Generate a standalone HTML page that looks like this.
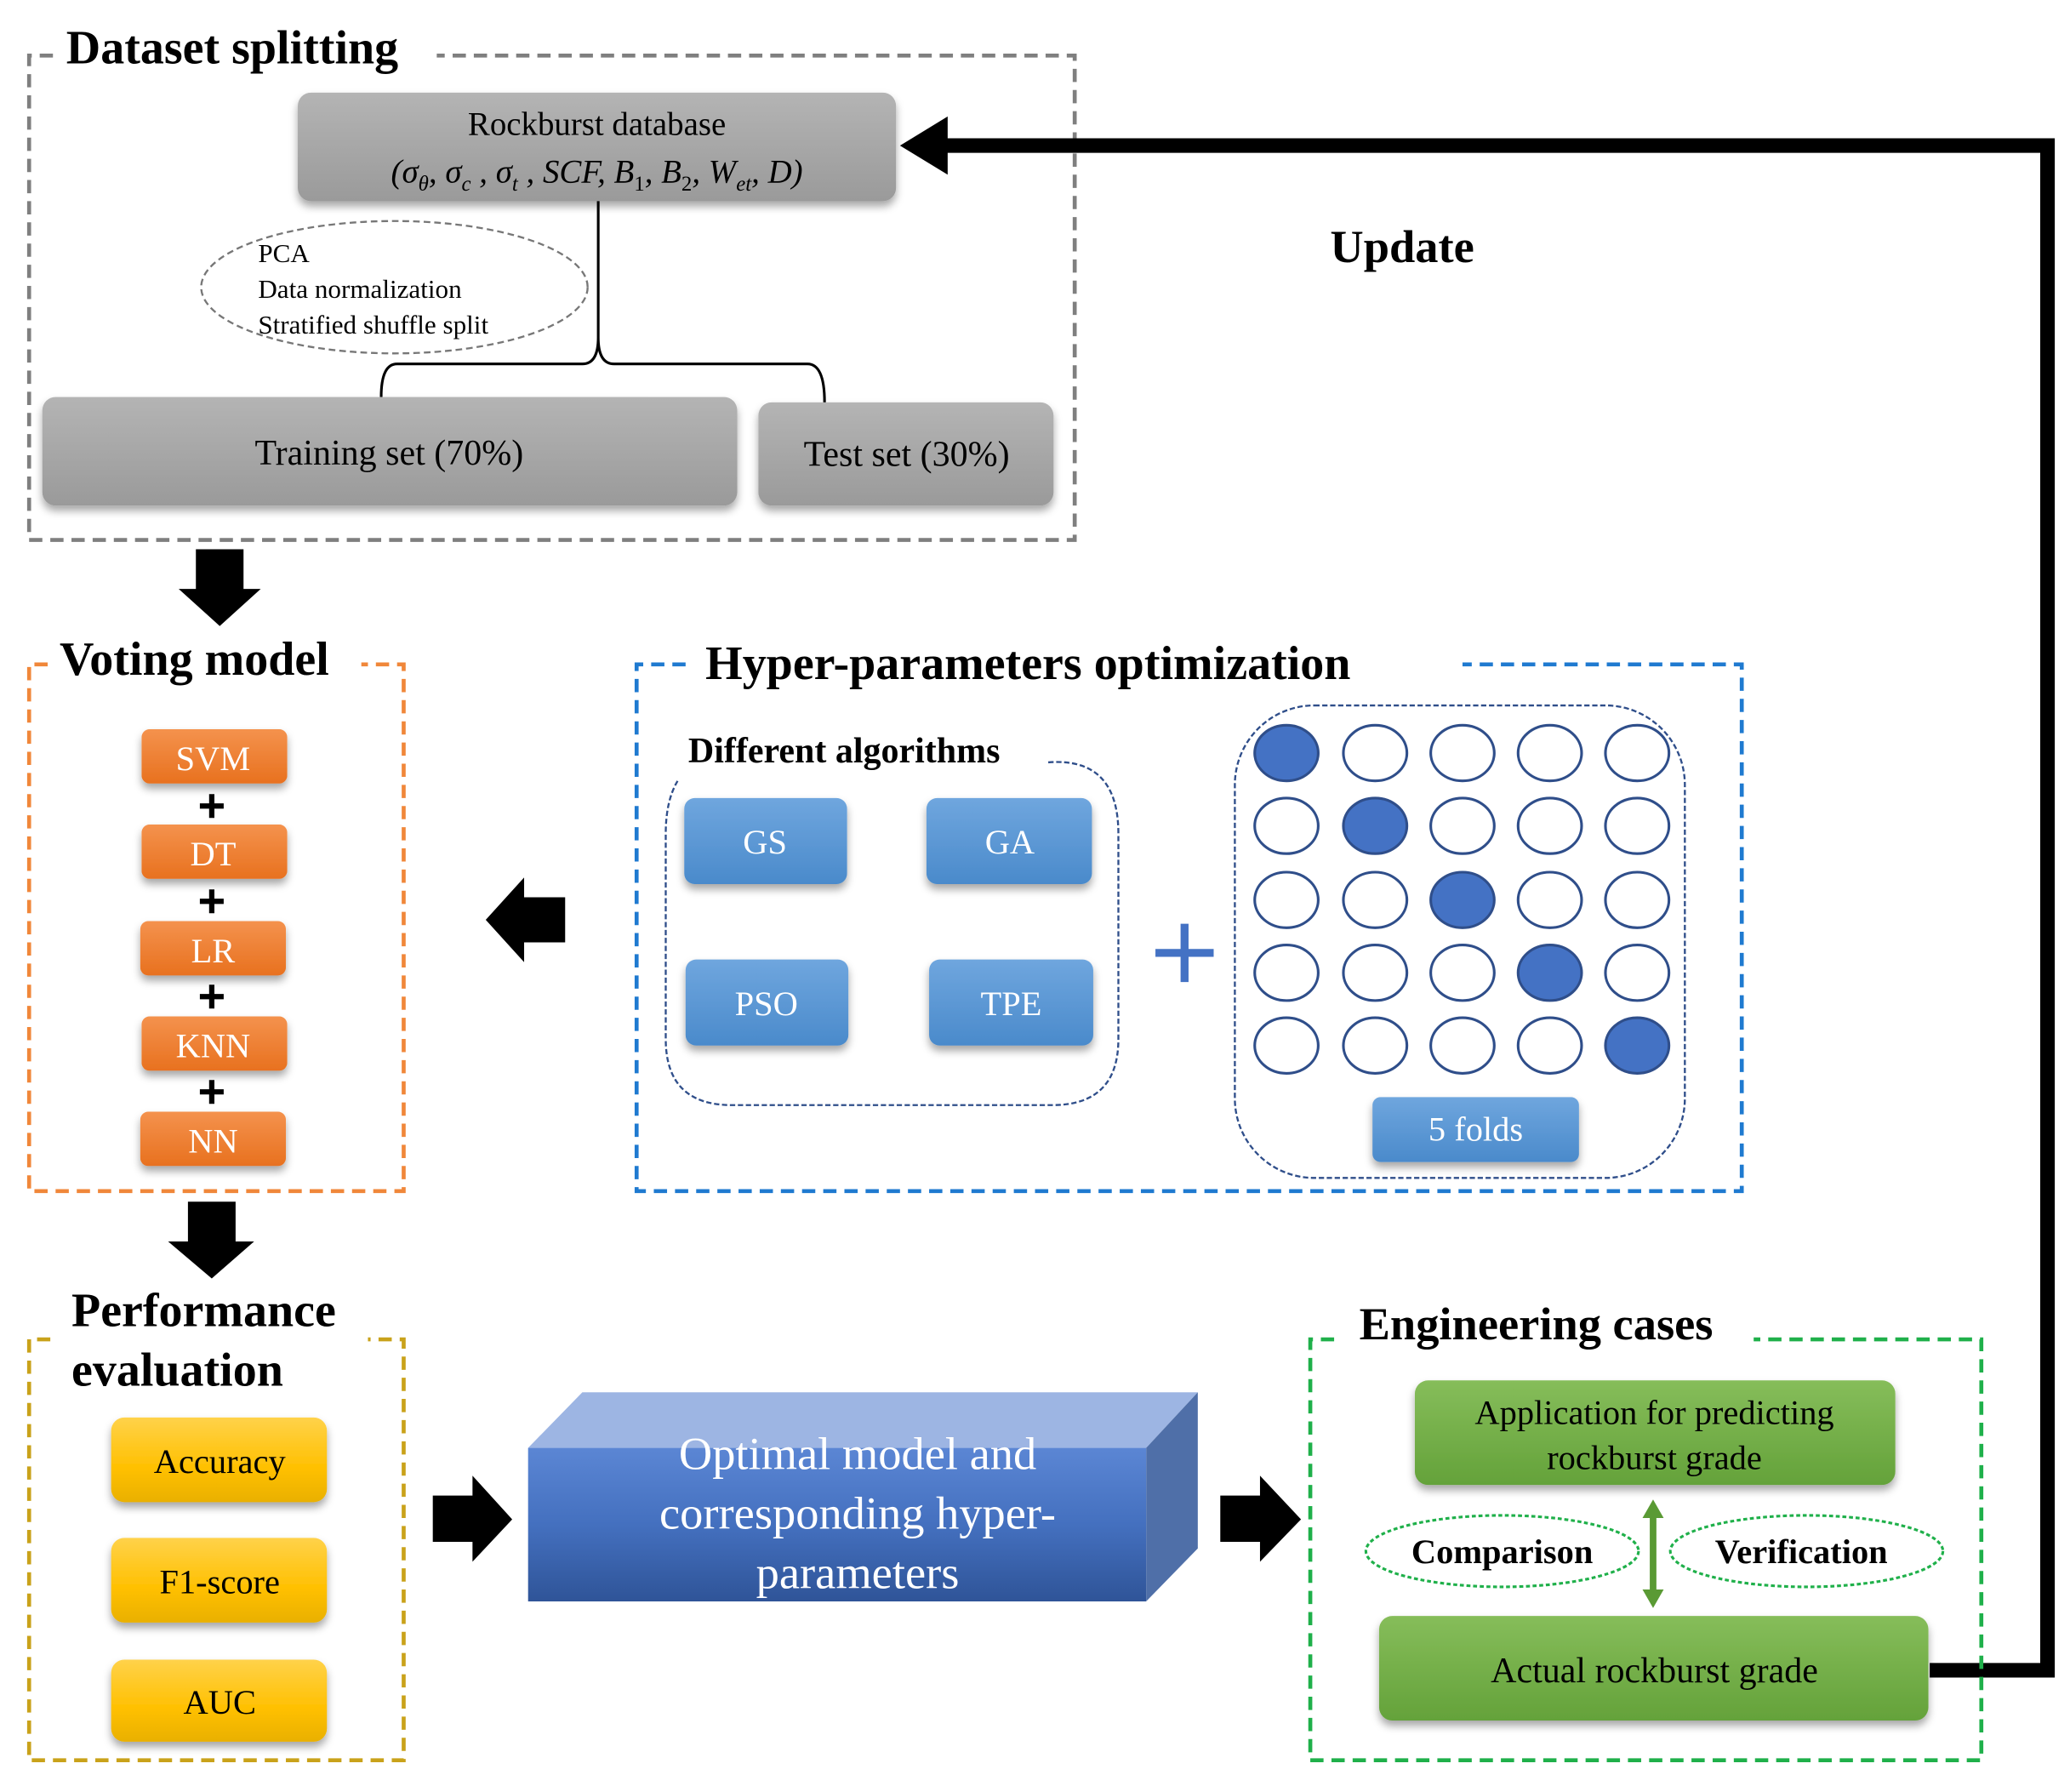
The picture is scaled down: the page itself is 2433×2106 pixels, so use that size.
<!DOCTYPE html>
<html><head><meta charset="utf-8"><style>
html,body{margin:0;padding:0;background:#fff}
svg{display:block}
text{font-family:"Liberation Serif",serif}
</style></head><body>
<svg width="2433" height="2106" viewBox="0 0 1564 1354" preserveAspectRatio="none" xmlns="http://www.w3.org/2000/svg">
<defs>
<linearGradient id="gray" x1="0" y1="0" x2="0" y2="1"><stop offset="0" stop-color="#b4b4b4"/><stop offset="1" stop-color="#9a9a9a"/></linearGradient>
<linearGradient id="org" x1="0" y1="0" x2="0" y2="1"><stop offset="0" stop-color="#f4924d"/><stop offset="1" stop-color="#e8711f"/></linearGradient>
<linearGradient id="blu" x1="0" y1="0" x2="0" y2="1"><stop offset="0" stop-color="#6fa6de"/><stop offset="1" stop-color="#4a8acb"/></linearGradient>
<linearGradient id="yel" x1="0" y1="0" x2="0" y2="1"><stop offset="0" stop-color="#ffd24a"/><stop offset="0.6" stop-color="#ffc000"/><stop offset="1" stop-color="#e9b000"/></linearGradient>
<linearGradient id="grn" x1="0" y1="0" x2="0" y2="1"><stop offset="0" stop-color="#86bd5a"/><stop offset="1" stop-color="#64a23a"/></linearGradient>
<linearGradient id="front" x1="0" y1="0" x2="0" y2="1"><stop offset="0" stop-color="#5b86d4"/><stop offset="0.5" stop-color="#4470bf"/><stop offset="1" stop-color="#2f5498"/></linearGradient>
<filter id="sh" x="-10%" y="-10%" width="120%" height="140%"><feDropShadow dx="0" dy="4" stdDeviation="3" flood-color="#000" flood-opacity="0.35"/></filter>
</defs>

<!-- Dataset splitting -->
<path d="M40,42 H22 V408 H812 V42 H330" fill="none" stroke="#7f7f7f" stroke-width="3" stroke-dasharray="10,6"/>
<text x="50" y="48" font-size="36" font-weight="bold">Dataset splitting</text>
<rect x="225" y="70" width="452" height="82" rx="10" fill="url(#gray)" filter="url(#sh)"/>
<text x="451" y="102" font-size="25" text-anchor="middle">Rockburst database</text>
<text x="451" y="138" font-size="25" text-anchor="middle" font-style="italic">(σ<tspan font-size="16" dy="6">θ</tspan><tspan dy="-6">, σ</tspan><tspan font-size="16" dy="6">c</tspan><tspan dy="-6"> , σ</tspan><tspan font-size="16" dy="6">t</tspan><tspan dy="-6"> , SCF, B</tspan><tspan font-size="16" dy="6" font-style="normal">1</tspan><tspan dy="-6">, B</tspan><tspan font-size="16" dy="6" font-style="normal">2</tspan><tspan dy="-6">, W</tspan><tspan font-size="16" dy="6">et</tspan><tspan dy="-6">, D)</tspan></text>
<ellipse cx="298" cy="217" rx="146" ry="50" fill="none" stroke="#777" stroke-width="1.5" stroke-dasharray="5,3"/>
<text x="195" y="198" font-size="20">PCA</text>
<text x="195" y="225" font-size="20">Data normalization</text>
<text x="195" y="252" font-size="20">Stratified shuffle split</text>
<path d="M452,152 V255 Q452,275 440,275 H300 Q288,275 288,300 M452,255 Q452,275 464,275 H610 Q623,275 623,304" fill="none" stroke="#000" stroke-width="2"/>
<rect x="32" y="300" width="525" height="82" rx="10" fill="url(#gray)" filter="url(#sh)"/>
<text x="294" y="351" font-size="27" text-anchor="middle">Training set (70%)</text>
<rect x="573" y="304" width="223" height="78" rx="10" fill="url(#gray)" filter="url(#sh)"/>
<text x="685" y="352" font-size="27" text-anchor="middle">Test set (30%)</text>

<!-- Update loop -->
<path d="M1458,1262 H1547 V110 H710" fill="none" stroke="#000" stroke-width="11"/>
<polygon points="680,110 716,88 716,132" fill="#000"/>
<text x="1005" y="198" font-size="35" font-weight="bold">Update</text>

<!-- down arrow 1 -->
<polygon points="148,415 184,415 184,445 197,445 166,473 135,445 148,445" fill="#000"/>

<!-- Voting model -->
<path d="M36,502 H22 V900 H305 V502 H273" fill="none" stroke="#f0873a" stroke-width="3" stroke-dasharray="10,6"/>
<text x="45" y="510" font-size="36" font-weight="bold">Voting model</text>
<g font-size="26" fill="#fff" text-anchor="middle">
<rect x="107" y="551" width="110" height="41" rx="6" fill="url(#org)" filter="url(#sh)"/><text x="161" y="582" fill="#fff">SVM</text>
<rect x="107" y="623" width="110" height="41" rx="6" fill="url(#org)" filter="url(#sh)"/><text x="161" y="654" fill="#fff">DT</text>
<rect x="106" y="696" width="110" height="41" rx="6" fill="url(#org)" filter="url(#sh)"/><text x="161" y="727" fill="#fff">LR</text>
<rect x="107" y="768" width="110" height="41" rx="6" fill="url(#org)" filter="url(#sh)"/><text x="161" y="799" fill="#fff">KNN</text>
<rect x="106" y="840" width="110" height="41" rx="6" fill="url(#org)" filter="url(#sh)"/><text x="161" y="871" fill="#fff">NN</text>
</g>
<g stroke="#000" stroke-width="4">
<path d="M151,609 H169 M160,600 V618"/><path d="M151,681 H169 M160,672 V690"/><path d="M151,753 H169 M160,744 V762"/><path d="M151,825 H169 M160,816 V834"/>
</g>
<polygon points="367,695 396,663 396,678 427,678 427,712 396,712 396,727" fill="#000"/>

<!-- Hyper-parameters -->
<path d="M518,502 H481 V900 H1316 V502 H1105" fill="none" stroke="#1f7ad0" stroke-width="3" stroke-dasharray="10,6"/>
<text x="533" y="513" font-size="36" font-weight="bold">Hyper-parameters optimization</text>
<text x="520" y="576" font-size="27" font-weight="bold">Different algorithms</text>
<path d="M792,576 Q845,572 845,630 V785 Q845,835 795,835 H553 Q503,835 503,785 V630 Q503,605 512,590" fill="none" stroke="#2f4e8a" stroke-width="1.5" stroke-dasharray="4,2"/>
<g font-size="26" text-anchor="middle">
<rect x="517" y="603" width="123" height="65" rx="8" fill="url(#blu)" filter="url(#sh)"/><text x="578" y="645" fill="#fff">GS</text>
<rect x="700" y="603" width="125" height="65" rx="8" fill="url(#blu)" filter="url(#sh)"/><text x="763" y="645" fill="#fff">GA</text>
<rect x="518" y="725" width="123" height="65" rx="8" fill="url(#blu)" filter="url(#sh)"/><text x="579" y="767" fill="#fff">PSO</text>
<rect x="702" y="725" width="124" height="65" rx="8" fill="url(#blu)" filter="url(#sh)"/><text x="764" y="767" fill="#fff">TPE</text>
</g>
<path d="M873,720 H917 M895,698 V742" stroke="#4472c4" stroke-width="6"/>
<rect x="933" y="533" width="340" height="357" rx="60" fill="none" stroke="#2f4e8a" stroke-width="1.5" stroke-dasharray="4,2"/>
<g stroke="#2f4e8a" stroke-width="2" fill="#fff">
<ellipse cx="972" cy="569" rx="24" ry="21" fill="#4472c4"/><ellipse cx="1039" cy="569" rx="24" ry="21"/><ellipse cx="1105" cy="569" rx="24" ry="21"/><ellipse cx="1171" cy="569" rx="24" ry="21"/><ellipse cx="1237" cy="569" rx="24" ry="21"/>
<ellipse cx="972" cy="624" rx="24" ry="21"/><ellipse cx="1039" cy="624" rx="24" ry="21" fill="#4472c4"/><ellipse cx="1105" cy="624" rx="24" ry="21"/><ellipse cx="1171" cy="624" rx="24" ry="21"/><ellipse cx="1237" cy="624" rx="24" ry="21"/>
<ellipse cx="972" cy="680" rx="24" ry="21"/><ellipse cx="1039" cy="680" rx="24" ry="21"/><ellipse cx="1105" cy="680" rx="24" ry="21" fill="#4472c4"/><ellipse cx="1171" cy="680" rx="24" ry="21"/><ellipse cx="1237" cy="680" rx="24" ry="21"/>
<ellipse cx="972" cy="735" rx="24" ry="21"/><ellipse cx="1039" cy="735" rx="24" ry="21"/><ellipse cx="1105" cy="735" rx="24" ry="21"/><ellipse cx="1171" cy="735" rx="24" ry="21" fill="#4472c4"/><ellipse cx="1237" cy="735" rx="24" ry="21"/>
<ellipse cx="972" cy="790" rx="24" ry="21"/><ellipse cx="1039" cy="790" rx="24" ry="21"/><ellipse cx="1105" cy="790" rx="24" ry="21"/><ellipse cx="1171" cy="790" rx="24" ry="21"/><ellipse cx="1237" cy="790" rx="24" ry="21" fill="#4472c4"/>
</g>
<rect x="1037" y="829" width="156" height="49" rx="6" fill="url(#blu)" filter="url(#sh)"/>
<text x="1115" y="862" font-size="26" fill="#fff" text-anchor="middle">5 folds</text>

<!-- down arrow 2 -->
<polygon points="142,908 178,908 178,938 192,938 160,966 127,938 142,938" fill="#000"/>

<!-- Performance evaluation -->
<path d="M38,1012 H22 V1330 H305 V1012 H278" fill="none" stroke="#c9a21a" stroke-width="3" stroke-dasharray="10,6"/>
<text x="54" y="1002" font-size="36" font-weight="bold">Performance</text>
<text x="54" y="1047" font-size="36" font-weight="bold">evaluation</text>
<g font-size="26" text-anchor="middle">
<rect x="84" y="1071" width="163" height="64" rx="10" fill="url(#yel)" filter="url(#sh)"/><text x="166" y="1113">Accuracy</text>
<rect x="84" y="1162" width="163" height="64" rx="10" fill="url(#yel)" filter="url(#sh)"/><text x="166" y="1204">F1-score</text>
<rect x="84" y="1254" width="163" height="62" rx="10" fill="url(#yel)" filter="url(#sh)"/><text x="166" y="1295">AUC</text>
</g>
<polygon points="327,1130 357,1130 357,1115 387,1148 357,1180 357,1165 327,1165" fill="#000"/>

<!-- 3D box -->
<polygon points="399,1094 440,1052 905,1052 866,1094" fill="#9db5e3"/>
<polygon points="866,1094 905,1052 905,1170 866,1210" fill="#4f6fa8"/>
<rect x="399" y="1094" width="467" height="116" fill="url(#front)"/>
<g font-size="35" fill="#fff" text-anchor="middle">
<text x="648" y="1110" fill="#fff">Optimal model and</text>
<text x="648" y="1155" fill="#fff">corresponding hyper-</text>
<text x="648" y="1200" fill="#fff">parameters</text>
</g>
<polygon points="922,1130 952,1130 952,1115 983,1148 952,1180 952,1165 922,1165" fill="#000"/>

<!-- Engineering cases -->
<path d="M1008,1012 H990 V1330 H1497 V1012 H1325" fill="none" stroke="#1fb04a" stroke-width="3" stroke-dasharray="10,6"/>
<text x="1027" y="1012" font-size="35" font-weight="bold">Engineering cases</text>
<rect x="1069" y="1043" width="363" height="79" rx="10" fill="url(#grn)" filter="url(#sh)"/>
<text x="1250" y="1076" font-size="26" text-anchor="middle">Application for predicting</text>
<text x="1250" y="1110" font-size="26" text-anchor="middle">rockburst grade</text>
<ellipse cx="1135" cy="1172" rx="103" ry="27" fill="none" stroke="#1fb04a" stroke-width="2" stroke-dasharray="3,2"/>
<ellipse cx="1365" cy="1172" rx="103" ry="27" fill="none" stroke="#1fb04a" stroke-width="2" stroke-dasharray="3,2"/>
<text x="1135" y="1181" font-size="26" font-weight="bold" text-anchor="middle">Comparison</text>
<text x="1361" y="1181" font-size="26" font-weight="bold" text-anchor="middle">Verification</text>
<path d="M1249,1143 V1205" stroke="#5a9a34" stroke-width="5"/>
<polygon points="1249,1133 1241,1147 1257,1147" fill="#5a9a34"/>
<polygon points="1249,1215 1241,1201 1257,1201" fill="#5a9a34"/>
<rect x="1042" y="1221" width="415" height="79" rx="10" fill="url(#grn)" filter="url(#sh)"/>
<text x="1250" y="1271" font-size="27" text-anchor="middle">Actual rockburst grade</text>
</svg>
</body></html>
